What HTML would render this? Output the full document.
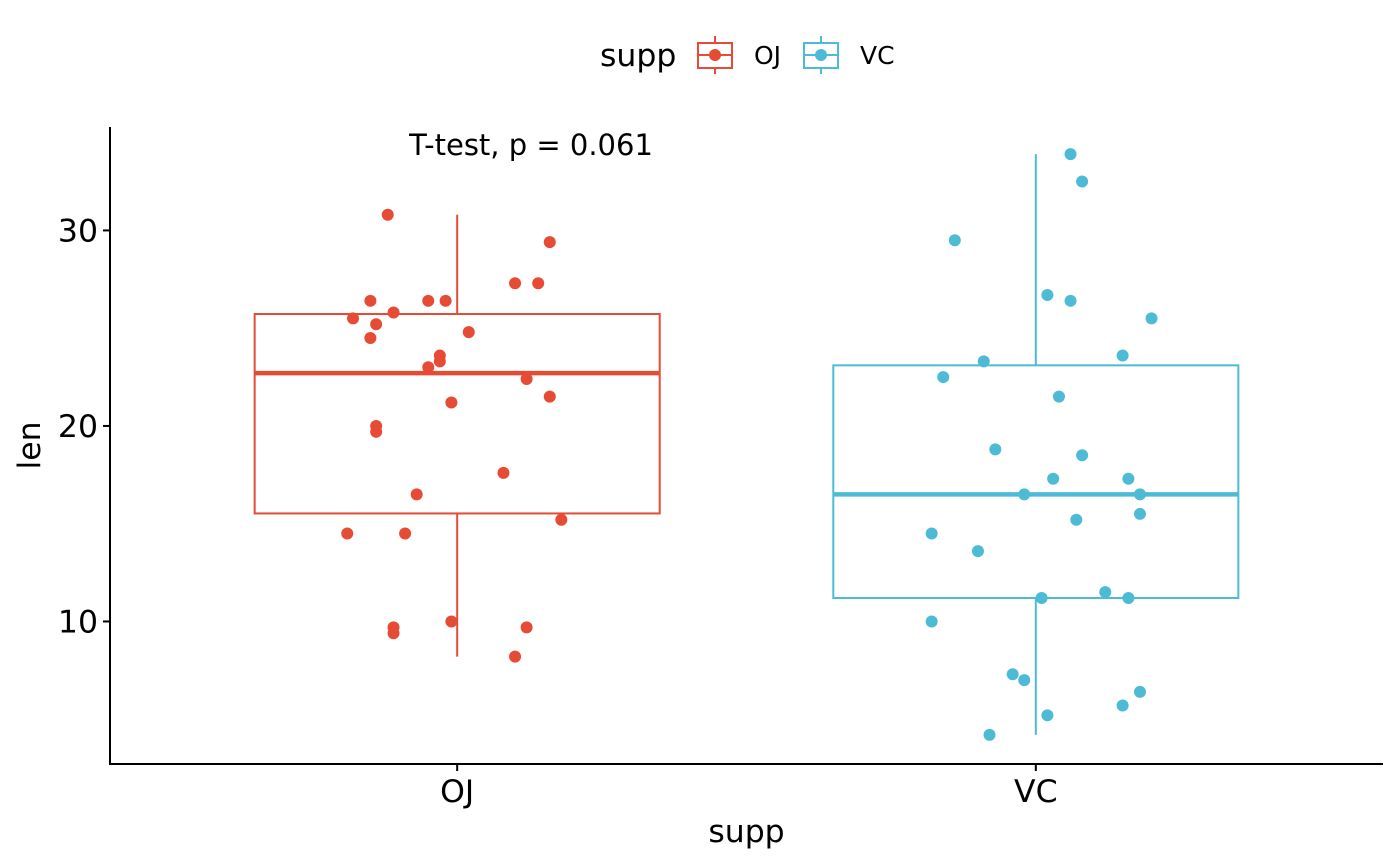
<!DOCTYPE html>
<html><head><meta charset="utf-8"><style>
html,body{margin:0;padding:0;background:#fff}
svg{display:block;font-family:"DejaVu Sans","Liberation Sans",sans-serif}
</style></head><body>
<svg id="chart" width="1400" height="866" viewBox="0 0 1400 866" xmlns="http://www.w3.org/2000/svg">
<g id="legend">
<text x="600" y="66" font-size="31.5">supp</text>
<g>
<line x1="715" y1="36" x2="715" y2="74" stroke="#E64B35" stroke-width="2"/>
<rect x="698" y="43" width="34" height="25" fill="#fff" stroke="#E64B35" stroke-width="2"/>
<line x1="698" y1="55" x2="732" y2="55" stroke="#E64B35" stroke-width="2"/>
<circle cx="715" cy="55" r="6" fill="#E64B35"/>
<text x="754" y="64" font-size="25">OJ</text>
</g>
<g>
<line x1="821" y1="36" x2="821" y2="74" stroke="#4DBBD5" stroke-width="2"/>
<rect x="804" y="43" width="34" height="25" fill="#fff" stroke="#4DBBD5" stroke-width="2"/>
<line x1="804" y1="55" x2="838" y2="55" stroke="#4DBBD5" stroke-width="2"/>
<circle cx="821" cy="55" r="6" fill="#4DBBD5"/>
<text x="860" y="64" font-size="25">VC</text>
</g>
</g>
<g id="plot"></g>
</svg>
<script>
const categories = ["OJ","VC"];
const colors = ["#E64B35","#4DBBD5"];
const ojValues = [30.8,29.4,27.3,27.3,26.4,26.4,26.4,25.8,25.5,25.2,24.8,24.5,23.6,23.3,23.0,22.4,21.5,21.2,20.0,19.7,17.6,16.5,15.2,14.5,14.5,10.0,9.7,9.4,9.7,8.2];
const ojJitter = [-0.12,0.16,0.10,0.14,-0.15,-0.05,-0.02,-0.11,-0.18,-0.14,0.02,-0.15,-0.03,-0.03,-0.05,0.12,0.16,-0.01,-0.14,-0.14,0.08,-0.07,0.18,-0.19,-0.09,-0.01,-0.11,-0.11,0.12,0.10];
const vcValues = [33.9,32.5,29.5,26.7,26.4,25.5,23.3,23.6,22.5,21.5,18.8,18.5,17.3,17.3,16.5,16.5,15.2,15.5,14.5,13.6,11.2,11.5,11.2,10.0,7.3,7.0,6.4,5.7,5.2,4.2];
const vcJitter = [0.06,0.08,-0.14,0.02,0.06,0.20,-0.09,0.15,-0.16,0.04,-0.07,0.08,0.03,0.16,-0.02,0.18,0.07,0.18,-0.18,-0.10,0.01,0.12,0.16,-0.18,-0.04,-0.02,0.18,0.15,0.02,-0.08];
const yTicks = [10,20,30];
const annotation = "T-test, p = 0.061";

const NS="http://www.w3.org/2000/svg";
const g=document.getElementById('plot');
const L=110,R=1383,T=127,B=764;
const yMin=2.71,yMax=35.29;
const y=v=>B-(v-yMin)/(yMax-yMin)*(B-T);
const band=(R-L)/(categories.length+0.2);
const xc=i=>L+band*(0.6+i);
function mk(tag,attrs,parent){const e=document.createElementNS(NS,tag);for(const k in attrs)e.setAttribute(k,attrs[k]);(parent||g).appendChild(e);return e;}
function q(arr,p){const s=[...arr].sort((a,b)=>a-b);const h=(s.length-1)*p;const lo=Math.floor(h);return s[lo]+(s[Math.min(lo+1,s.length-1)]-s[lo])*(h-lo);}
const series=[[ojValues,ojJitter],[vcValues,vcJitter]];
series.forEach(([vals,jit],i)=>{
  const c=colors[i],cx=xc(i),w=band*0.7;
  const q1=q(vals,0.25),q2=q(vals,0.5),q3=q(vals,0.75),iqr=q3-q1;
  const lo=Math.min(...vals.filter(v=>v>=q1-1.5*iqr)),hi=Math.max(...vals.filter(v=>v<=q3+1.5*iqr));
  const wl=mk('line',{x1:cx,x2:cx,y1:y(hi),y2:y(q3),stroke:c,'stroke-width':2});
  
  
  const wl2=mk('line',{x1:cx,x2:cx,y1:y(q1),y2:y(lo),stroke:c,'stroke-width':2});
  
  
  const bx=mk('rect',{x:cx-w/2,y:y(q3),width:w,height:y(q1)-y(q3),fill:'none',stroke:c,'stroke-width':2});
  
  
  const md=mk('line',{x1:cx-w/2,x2:cx+w/2,y1:y(q2),y2:y(q2),stroke:c,'stroke-width':4.5});
  
  
  vals.forEach((v,j)=>{
    const p=mk('circle',{cx:cx+jit[j]*band,cy:y(v),r:6,fill:c});
    
    
  });
  const tl=mk('line',{x1:cx,x2:cx,y1:B,y2:B+7,stroke:'#000','stroke-width':2});
  
  
  const tt=mk('text',{x:cx,y:B+38,'font-size':31.5,'text-anchor':'middle',fill:'#000'});
  tt.textContent=categories[i];
  
  
});
yTicks.forEach(t=>{
  const tl=mk('line',{x1:L-7,x2:L,y1:y(t),y2:y(t),stroke:'#000','stroke-width':2});
  
  
  const tt=mk('text',{x:L-12,y:y(t)+11,'font-size':31.5,'text-anchor':'end',fill:'#000'});
  tt.textContent=t;
  
  
});
const ax=mk('path',{d:`M${L},${T} L${L},${B} L${R},${B}`,fill:'none',stroke:'#000','stroke-width':2});


const xt=mk('text',{x:(L+R)/2,y:842,'font-size':31.5,'text-anchor':'middle'});
xt.textContent='supp';


const yt=mk('text',{x:0,y:0,'font-size':31.5,'text-anchor':'middle',transform:`translate(40,${(T+B)/2}) rotate(-90)`});
yt.textContent='len';


const an=mk('text',{x:531,y:155,'font-size':29,'text-anchor':'middle'});
an.textContent=annotation;


</script>
</body></html>
